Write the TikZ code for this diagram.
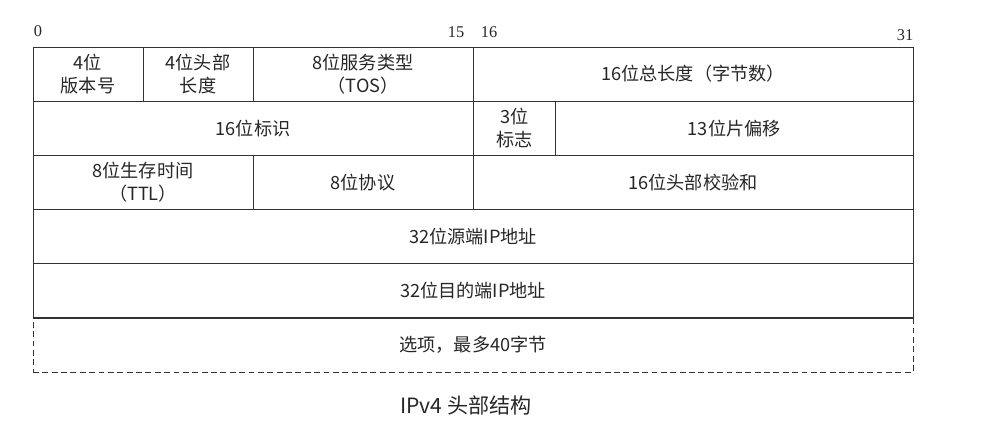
\documentclass[tikz,border=0pt]{standalone}
\usepackage{fontspec}
\setmainfont{Liberation Serif}
\newfontfamily\cjk{Noto Sans CJK SC}
\usepackage{tikz}
\newcommand{\mybitwidth}{0.825cm}
\newcommand{\myrowheight}{1.625cm}
\newcommand{\mytikzfieldfontsize}{\fontsize{15.5}{19.5}\selectfont}
\newcommand{\mytikzbitfontsize}{\fontsize{14}{16}\selectfont}
\newcommand{\fieldnode}[1][]{\node[field,#1]}
\tikzstyle{field}=[
    draw,
    rectangle,
    minimum height=\myrowheight,
    inner sep=0pt,
    align=center,
    font=\cjk\mytikzfieldfontsize
]
\tikzstyle{optional}=[
    dash pattern=on 5pt off 3pt
]
\tikzstyle{mytikzheaderoptions}=[
    x=0.03cm,
    y=-0.03cm,
    line width=0.8pt,
    every node/.append style={text=black!85},
    draw=black!80
]

\begin{document}
\begin{tikzpicture}[mytikzheaderoptions]
    \useasboundingbox (0,0) rectangle (990,430);

    % bit numbers
    \node[font=\mytikzbitfontsize] (b0) at (38,31) {0};
    \node[font=\mytikzbitfontsize] (b15) at (456,32) {15};
    \node[font=\mytikzbitfontsize] (b16) at (489,32) {16};
    \node[font=\mytikzbitfontsize] (b31) at (905,35) {31};

    % row 1
    \fieldnode[minimum width=4*\mybitwidth] (ver) at (88,74.1) {4位\\版本号};
    \fieldnode[minimum width=4*\mybitwidth] (ihl) at (198,74.1) {4位头部\\长度};
    \fieldnode[minimum width=8*\mybitwidth] (tos) at (363,74.1) {8位服务类型\\（TOS）};
    \fieldnode[minimum width=16*\mybitwidth] (len) at (693,74.1) {16位总长度（字节数）};

    % row 2
    \fieldnode[minimum width=16*\mybitwidth] (id) at (253,128.2) {16位标识};
    \fieldnode[minimum width=3*\mybitwidth] (flags) at (514.25,128.2) {3位\\标志};
    \fieldnode[minimum width=13*\mybitwidth] (off) at (734.25,128.2) {13位片偏移};

    % row 3
    \fieldnode[minimum width=8*\mybitwidth] (ttl) at (143,182.4) {8位生存时间\\（TTL）};
    \fieldnode[minimum width=8*\mybitwidth] (proto) at (363,182.4) {8位协议};
    \fieldnode[minimum width=16*\mybitwidth] (csum) at (693,182.4) {16位头部校验和};

    % addresses
    \fieldnode[minimum width=32*\mybitwidth] (src) at (473,236.6) {32位源端IP地址};
    \fieldnode[minimum width=32*\mybitwidth] (dst) at (473,290.7) {32位目的端IP地址};

    % options
    \fieldnode[minimum width=32*\mybitwidth,optional] (opt) at (473,344.9) {选项，最多40字节};
    \draw (dst.south west) -- (dst.south east);

    \node[font=\cjk\fontsize{18}{21}\selectfont] (caption) at (466,405) {IPv4 头部结构};
\end{tikzpicture}
\end{document}
